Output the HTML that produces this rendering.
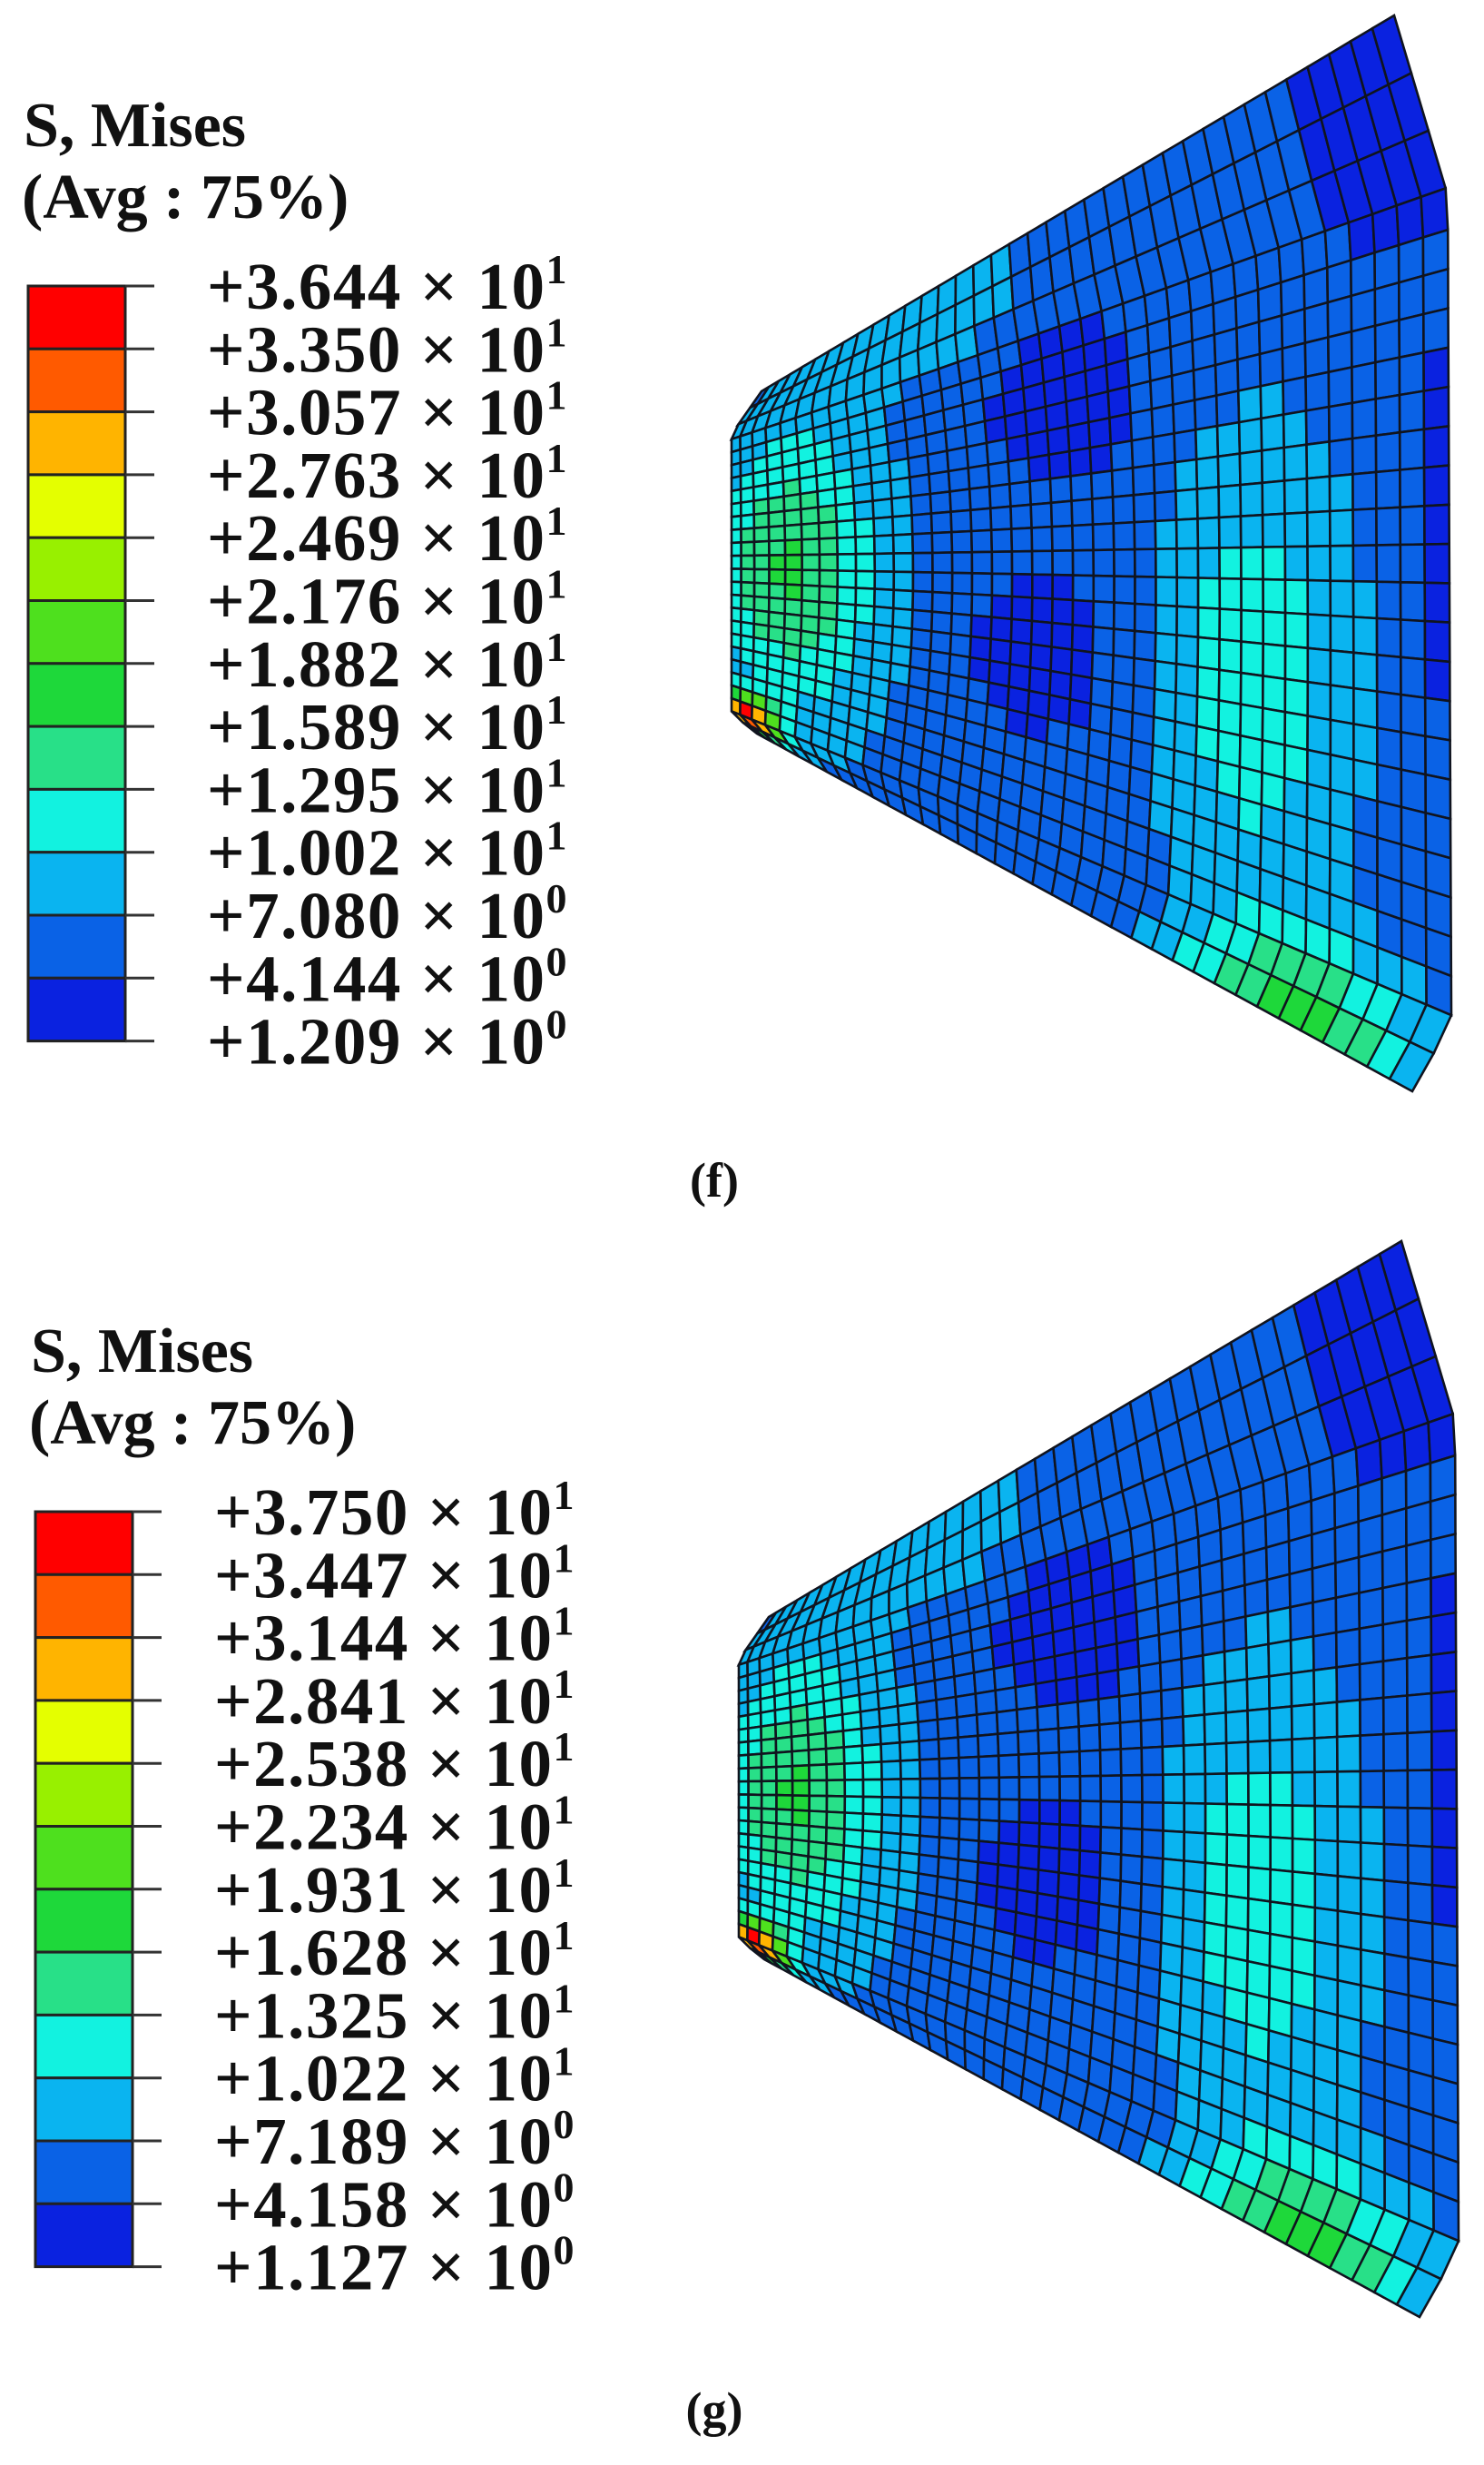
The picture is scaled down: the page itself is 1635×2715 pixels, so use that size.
<!DOCTYPE html>
<html><head><meta charset="utf-8"><style>
html,body{margin:0;padding:0;background:#fff;}
svg{display:block;}
text{font-family:"Liberation Serif",serif;fill:#111;}
</style></head><body>
<svg id="fig" width="1635" height="2715" viewBox="0 0 1635 2715" xmlns="http://www.w3.org/2000/svg"></svg>
<script>
// Legend values (top to bottom) for each panel
const legendF = ["+3.644","+3.350","+3.057","+2.763","+2.469","+2.176","+1.882","+1.589","+1.295","+1.002","+7.080","+4.144","+1.209"];
const legendG = ["+3.750","+3.447","+3.144","+2.841","+2.538","+2.234","+1.931","+1.628","+1.325","+1.022","+7.189","+4.158","+1.127"];
const expF = [1,1,1,1,1,1,1,1,1,1,0,0,0];
const expG = [1,1,1,1,1,1,1,1,1,1,0,0,0];
const colors = ["#ff0000","#ff5a00","#ffb400","#e4ff00","#98f000","#4ee01e","#1ed83a","#28e088","#12f2e0","#0ab4f0","#0a62e6","#0a22e0"];
// field blobs: u, v, sigma_u, sigma_v, amplitude (level units)
const blobU = [0.45, 0.92, 0.40, 1.00, 0.72, 0.06, 0.02, 0.82, 0.30, 0.15];
const blobV = [0.22, 0.06, 0.63, 0.45, 0.62, 0.50, 0.92, 1.00, 0.05, 0.50];
const blobSU= [0.10, 0.10, 0.10, 0.05, 0.15, 0.09, 0.04, 0.16, 0.25, 0.12];
const blobSV= [0.13, 0.10, 0.12, 0.18, 0.30, 0.35, 0.06, 0.09, 0.08, 0.45];
const blobA = [-1.2,-1.1,-1.2,-1.1, 2.3, 3.2, 9.5, 4.0, 1.0, 1.0];

const svg = document.getElementById('fig');
const NS = "http://www.w3.org/2000/svg";
function mk(tag, attrs, parent){const e=document.createElementNS(NS,tag);for(const k in attrs)e.setAttribute(k,attrs[k]);(parent||svg).appendChild(e);return e;}
function lerp(a,b,t){return [a[0]+(b[0]-a[0])*t,a[1]+(b[1]-a[1])*t];}
function poly(pts,segs,t){for(let i=0;i<segs.length-1;i++){if(t<=segs[i+1]){return lerp(pts[i],pts[i+1],(t-segs[i])/(segs[i+1]-segs[i]));}}return pts[pts.length-1];}

function field(u,v){
  let val=1.35;
  for(let i=0;i<blobU.length;i++){
    const du=(u-blobU[i])/blobSU[i], dv=(v-blobV[i])/blobSV[i];
    val+=blobA[i]*Math.exp(-(du*du+dv*dv));
  }
  return val;
}

function panel(id, dx, dy, vals, exps, caption, capY){
  const g = mk('g',{transform:`translate(${dx},${dy})`});
  
  
  const t1 = mk('text',{x:26,y:161,'font-size':70,'font-weight':'bold'},g);
  t1.textContent="S, Mises";
  
  
  const t2 = mk('text',{x:24,y:240,'font-size':70,'font-weight':'bold'},g);
  t2.textContent="(Avg : 75%)";
  
  
  const top=315, h=69.3;
  for(let k=0;k<12;k++){
    const r = mk('rect',{x:31,y:top+k*h,width:107,height:h,fill:colors[k],stroke:'#222','stroke-width':3},g);
    
    
  }
  for(let k=0;k<13;k++){
    const y=top+k*h;
    const l = mk('line',{x1:138,y1:y,x2:170,y2:y,stroke:'#333','stroke-width':3},g);
    
    
    const tx = mk('text',{x:228,y:y+25,'font-size':73,'font-weight':'bold','letter-spacing':1.5},g);
    
    
    tx.textContent = vals[k]+" \u00d7 10";
    const sp = mk('tspan',{dy:-28,'font-size':46},tx);
    sp.textContent = String(exps[k]);
  }
  // mesh
  const tip=[1536,17], rt=[1595,215], rb=[1599,1126], br=[1556,1202];
  const nt=[839,431], lt=[806,478], lb=[806,786], nb=[834,808];
  const R=v=>poly([tip,rt,rb,br],[0,0.12,0.93,1],v);
  const L=v=>poly([nt,lt,lb,nb],[0,0.1,0.93,1],v);
  const T=u=>lerp(nt,tip,u), B=u=>lerp(nb,br,u);
  function P(u,v){
    const l=L(v), r=R(v), t=T(u), b=B(u);
    const c00=nt,c10=tip,c01=nb,c11=br;
    let x=(1-u)*l[0]+u*r[0]+(1-v)*t[0]+v*b[0]-((1-u)*(1-v)*c00[0]+u*(1-v)*c10[0]+(1-u)*v*c01[0]+u*v*c11[0]);
    let y=(1-u)*l[1]+u*r[1]+(1-v)*t[1]+v*b[1]-((1-u)*(1-v)*c00[1]+u*(1-v)*c10[1]+(1-u)*v*c01[1]+u*v*c11[1]);
    x+=150*u*(1-u)*(1-u)*Math.sin(Math.PI*v);
    return [x,y];
  }
  const nu=36, nv=26;
  const mesh = mk('g',{},g);
  
  
  for(let i=0;i<nu;i++){
    const u0=Math.pow(i/nu,1.25), u1=Math.pow((i+1)/nu,1.25);
    for(let j=0;j<nv;j++){
      const v0=j/nv, v1=(j+1)/nv;
      const lv=field((u0+u1)/2,(v0+v1)/2);
      let lev=Math.max(0,Math.min(11,Math.floor(lv)));
      const pts=[P(u0,v0),P(u1,v0),P(u1,v1),P(u0,v1)].map(p=>p[0].toFixed(1)+","+p[1].toFixed(1)).join(" ");
      const c = mk('polygon',{points:pts,fill:colors[11-lev],stroke:'#10141f','stroke-width':2.6},mesh);
      
      
    }
  }
  const cap = mk('text',{x:787-dx,y:capY-dy,'font-size':54,'font-weight':'bold','text-anchor':'middle'},g);
  cap.textContent = caption;
  
  
}
panel('f',0,0,legendF,expF,"(f)",1318);
panel('g',8,1350,legendG,expG,"(g)",2672);
</script>
</body></html>
